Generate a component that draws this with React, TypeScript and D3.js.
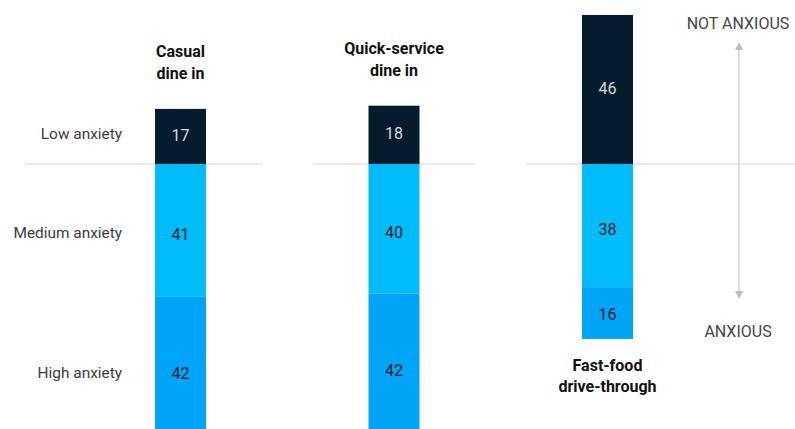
import React from "react";
import * as d3 from "d3";

const categories = ["Casual dine in", "Quick-service dine in", "Fast-food drive-through"];
const categoryLines = [["Casual", "dine in"], ["Quick-service", "dine in"], ["Fast-food", "drive-through"]];
const lowAnxiety = [17, 18, 46];
const mediumAnxiety = [41, 40, 38];
const highAnxiety = [42, 42, 16];
const rowLabels = ["Low anxiety", "Medium anxiety", "High anxiety"];
const topLabel = "NOT ANXIOUS";
const bottomLabel = "ANXIOUS";

const W = 795;
const H = 429;
const BASE = 164;
const BAR_W = 51;
const FONT = "Roboto, 'Liberation Sans', Arial, sans-serif";

export default function App() {
  const x = d3.scalePoint<string>().domain(categories).range([180.5, 607.5]);
  const k = d3.scaleLinear().domain([0, 100]).range([0, 324]);
  const step = x.step();
  const colors = { low: "#051C2C", med: "#00BDF9", high: "#00A5F8" };

  return (
    <svg
      width={W}
      height={H}
      style={{ position: "absolute", left: 0, top: 0, display: "block", background: "#fff" }}
      fontFamily={FONT}
    >
      {categories.map((c, i) => {
        const cx = x(c)!;
        const x1 = i === 0 ? 25 : cx - step / 2 + 26;
        const x2 = i === categories.length - 1 ? W : cx + step / 2 - 25;
        return <line key={"b" + i} x1={x1} x2={x2} y1={BASE} y2={BASE} stroke="#e3e3e3" strokeWidth={1.5} />;
      })}

      {categories.map((c, i) => {
        const cx = x(c)!;
        const x0 = cx - BAR_W / 2;
        const lowTop = BASE - k(lowAnxiety[i]);
        const medBot = BASE + k(mediumAnxiety[i]);
        const highBot = medBot + k(highAnxiety[i]);
        const isBottomLabel = i === categories.length - 1;
        const highMid = (medBot + highBot) / 2 + (highBot > H ? 9 : 1);
        return (
          <g key={c}>
            <rect x={x0} y={lowTop} width={BAR_W} height={BASE - lowTop} fill={colors.low} />
            <rect x={x0} y={BASE} width={BAR_W} height={medBot - BASE} fill={colors.med} />
            <rect x={x0} y={medBot} width={BAR_W} height={highBot - medBot} fill={colors.high} />
            <text x={cx} y={(lowTop + BASE) / 2 - 1} textAnchor="middle" dominantBaseline="central" fontSize={16} fill="#d5dbe0">
              {lowAnxiety[i]}
            </text>
            <text x={cx} y={(BASE + medBot) / 2 + 4} textAnchor="middle" dominantBaseline="central" fontSize={16} fill="#0b1b28">
              {mediumAnxiety[i]}
            </text>
            <text x={cx} y={highMid} textAnchor="middle" dominantBaseline="central" fontSize={16} fill="#0b1b28">
              {highAnxiety[i]}
            </text>
            {categoryLines[i].map((t, j) => (
              <text
                key={j}
                x={cx}
                y={isBottomLabel ? highBot + 32 + j * 21.5 : lowTop - 52 + j * 22}
                textAnchor="middle"
                fontSize={16}
                fontWeight={700}
                fill="#111"
              >
                {t}
              </text>
            ))}
          </g>
        );
      })}

      {(() => {
        const lowTop = BASE - k(lowAnxiety[0]);
        const medBot = BASE + k(mediumAnxiety[0]);
        const highBot = medBot + k(highAnxiety[0]);
        const ys = [(lowTop + BASE) / 2 - 2, (BASE + medBot) / 2 + 3, (medBot + highBot) / 2 + 8];
        return rowLabels.map((r, i) => (
          <text key={r} x={122} y={ys[i]} textAnchor="end" dominantBaseline="central" fontSize={15.4} fill="#3a3a3a">
            {r}
          </text>
        ));
      })()}

      <line x1={739} x2={739} y1={48} y2={293} stroke="#c8c8c8" strokeWidth={1.2} />
      <path d="M739,42 L735,50 L743,50 Z" fill="#bdbdbd" />
      <path d="M739,299 L735,291 L743,291 Z" fill="#bdbdbd" />
      <text x={738} y={29} textAnchor="middle" fontSize={16} fill="#444">
        {topLabel}
      </text>
      <text x={738} y={337} textAnchor="middle" fontSize={16} fill="#444">
        {bottomLabel}
      </text>
    </svg>
  );
}
